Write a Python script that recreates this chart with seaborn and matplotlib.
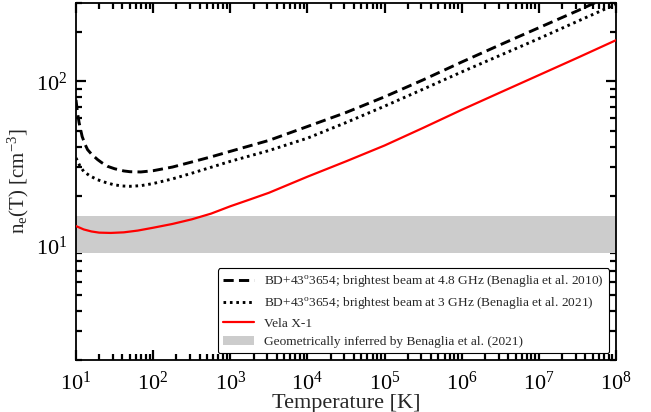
import numpy as np
import pandas as pd
import matplotlib
matplotlib.use("Agg")
import matplotlib.pyplot as plt
import seaborn as sns
from matplotlib.ticker import LogLocator, NullFormatter, FixedLocator

# ---- data ----
T_dash = [10, 10**1.02, 10**1.04, 10**1.06, 10**1.08, 10**1.12, 10**1.15, 10**1.2, 10**1.28, 10**1.33,
          10**1.41, 10**1.5, 10**1.62, 10**1.7, 10**1.84, 1e2, 10**2.25, 10**2.5, 10**2.75,
          1e3, 10**3.5, 1e4, 10**4.5, 1e5, 10**5.5, 1e6, 10**6.5, 1e7, 10**7.5, 1e8]
n_dash = [77, 64, 56, 50.7, 46, 41, 38.3, 36, 33.3, 32,
          30.3, 29.3, 28.4, 28.1, 28.0, 28.5, 30.0, 32.2, 34.6,
          37.4, 43.6, 53, 64.5, 80.4, 102, 131, 167, 212, 269, 344]

T_dot = [10, 10**1.05, 10**1.1, 10**1.18, 10**1.28, 10**1.38, 10**1.49, 10**1.6, 10**1.7, 10**1.84,
         1e2, 10**2.25, 10**2.5, 10**2.75, 1e3, 10**3.5, 1e4, 10**4.5, 1e5, 10**5.5, 1e6,
         10**6.5, 1e7, 10**7.5, 1e8]
n_dot = [34.1, 30.5, 28.2, 26.5, 25.1, 24.2, 23.4, 23.0, 22.9, 23.1,
         23.8, 25.4, 27.5, 29.9, 32.5, 37.8, 45.0, 56, 70.5, 89.5, 114,
         144, 182, 232, 295]

T_vela = [10, 10**1.05, 10**1.1, 10**1.2, 10**1.3, 10**1.45, 10**1.62, 10**1.8, 1e2, 10**2.25,
          10**2.5, 10**2.75, 1e3, 10**3.25, 10**3.5, 1e4, 10**4.5,
          1e5, 10**5.5, 1e6, 10**6.5, 1e7, 10**7.5, 1e8]
n_vela = [13.1, 12.8, 12.5, 12.15, 11.95, 11.9, 12.0, 12.3, 12.8, 13.5,
          14.4, 15.6, 17.3, 19.0, 20.9, 26.2, 32.5,
          40.6, 52, 67, 85.5, 109, 139, 178]

band = [9.0, 15.0]

labels = [r"BD+43$^{\rm o}$3654; brightest beam at 4.8 GHz (Benaglia et al. 2010)",
          r"BD+43$^{\rm o}$3654; brightest beam at 3 GHz (Benaglia et al. 2021)",
          "Vela X-1",
          "Geometrically inferred by Benaglia et al. (2021)"]

x_major = [1e1, 1e2, 1e3, 1e4, 1e5, 1e6, 1e7, 1e8]
y_major = [1e1, 1e2]

sns.set_style("ticks")
plt.rcParams["font.family"] = ["Liberation Serif", "DejaVu Serif"]
plt.rcParams["mathtext.fontset"] = "custom"
plt.rcParams["mathtext.rm"] = "Liberation Serif"
plt.rcParams["mathtext.it"] = "Liberation Serif:italic"
plt.rcParams["mathtext.bf"] = "Liberation Serif:bold"

fig = plt.figure(figsize=(6.51, 4.12), dpi=100)
ax = fig.add_axes([76/651, 1-360/412, (616-76)/651, (360-3)/412])

df1 = pd.DataFrame({"T": T_dash, "n": n_dash})
df2 = pd.DataFrame({"T": T_dot, "n": n_dot})
df3 = pd.DataFrame({"T": T_vela, "n": n_vela})

ax.axhspan(band[0], band[1], color="#cccccc", lw=0, zorder=1, label=labels[3])
sns.lineplot(data=df1, x="T", y="n", ax=ax, color="black", lw=2.1, label=labels[0], zorder=3)
sns.lineplot(data=df2, x="T", y="n", ax=ax, color="black", lw=2.1, label=labels[1], zorder=3)
sns.lineplot(data=df3, x="T", y="n", ax=ax, color="red", lw=1.6, label=labels[2], zorder=3)
ax.lines[0].set_dashes([3.5, 1.8])
ax.lines[1].set_dashes([0.9, 1.3])

ax.set_xscale("log")
ax.set_yscale("log")
ax.set_xlim(10, 1e8)
ax.set_ylim(2, 300)

ax.xaxis.set_major_locator(FixedLocator(x_major))
ax.xaxis.set_minor_locator(LogLocator(base=10, subs=np.arange(2, 10), numticks=100))
ax.yaxis.set_major_locator(FixedLocator(y_major))
ax.yaxis.set_minor_locator(LogLocator(base=10, subs=np.arange(2, 10), numticks=100))
ax.set_xticklabels([r"$10^{%d}$" % int(round(np.log10(v))) for v in x_major])
ax.set_yticklabels([r"$10^{%d}$" % int(round(np.log10(v))) for v in y_major])
ax.xaxis.set_minor_formatter(NullFormatter())
ax.yaxis.set_minor_formatter(NullFormatter())

ax.tick_params(which="both", direction="in", top=True, right=True, colors="black", labelsize=16)
ax.tick_params(which="major", length=7, width=1.6)
ax.tick_params(axis="x", which="major", pad=8)
ax.tick_params(axis="y", which="major", pad=6)
ax.tick_params(which="minor", length=4, width=1.6)
for s in ax.spines.values():
    s.set_linewidth(1.3)
    s.set_color("black")

ax.set_xlabel("Temperature [K]", fontsize=16, labelpad=0)
ax.set_ylabel(r"n$_{\rm e}$(T) [cm$^{-3}$]", fontsize=15, labelpad=4)

h, l = ax.get_legend_handles_labels()
order = [l.index(x) for x in labels]
leg = ax.legend([h[i] for i in order], [l[i] for i in order], loc="lower right",
                fontsize=9.6, frameon=True, fancybox=True, edgecolor="black",
                framealpha=1, handlelength=2.3, borderaxespad=0.5, labelspacing=0.45)
leg.get_frame().set_linewidth(0.8)

fig.savefig("out.png", dpi=100)
